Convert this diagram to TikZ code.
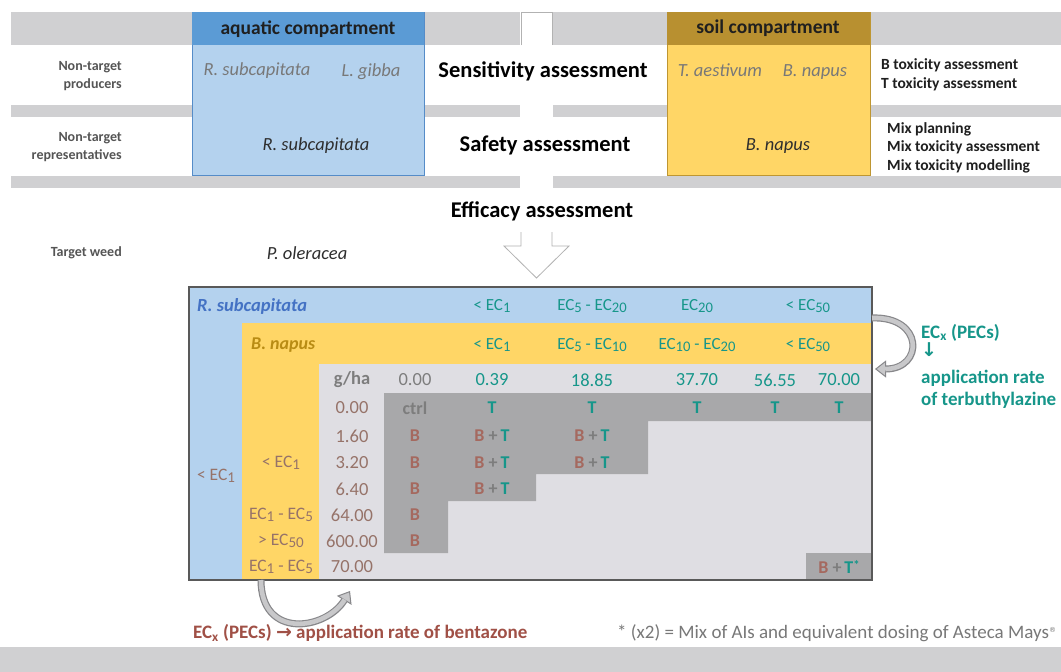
\documentclass[tikz,border=0pt]{standalone}
\usepackage{fontspec}
\setmainfont{Carlito}
\newfontfamily\symfnt{DejaVu Sans}
\usepackage{graphicx}
\usetikzlibrary{arrows.meta}
\definecolor{bandgray}{RGB}{208,208,210}
\definecolor{aqhead}{RGB}{91,155,213}
\definecolor{aqbody}{RGB}{180,210,238}
\definecolor{aqline}{RGB}{85,140,200}
\definecolor{soilhead}{RGB}{184,144,48}
\definecolor{soilbody}{RGB}{255,214,102}
\definecolor{soilline}{RGB}{190,150,50}
\definecolor{tblue}{RGB}{180,210,238}
\definecolor{tyellow}{RGB}{255,214,102}
\definecolor{tlight}{RGB}{223,222,227}
\definecolor{tdark}{RGB}{168,168,170}
\definecolor{labgray}{RGB}{85,85,85}
\definecolor{spgray}{RGB}{120,120,120}
\definecolor{tealc}{RGB}{22,150,138}
\definecolor{brownc}{RGB}{165,105,95}
\definecolor{rowbrown}{RGB}{150,115,105}
\definecolor{numgray}{RGB}{125,125,125}
\definecolor{rsblue}{RGB}{68,114,196}
\definecolor{bngold}{RGB}{185,140,20}
\definecolor{redbrown}{RGB}{160,80,70}
\definecolor{arrgray}{RGB}{135,135,138}
\definecolor{arrlight}{RGB}{200,200,202}
\newcommand\sbx[1]{\raisebox{-0.28ex}{\scalebox{0.86}{#1}}}
\tikzset{
  lbl/.style={font=\fontsize{14}{18}\selectfont\bfseries, text=labgray, align=right, anchor=east, inner sep=0pt},
  rtx/.style={font=\fontsize{15.5}{18.5}\selectfont\bfseries, text=black!88, align=left, anchor=west, inner sep=0pt},
  assess/.style={font=\fontsize{22.5}{24}\selectfont\bfseries, text=black, inner sep=0pt},
  hdr/.style={font=\fontsize{19.5}{20}\selectfont\bfseries, text=black!88, inner sep=0pt},
  spg/.style={font=\fontsize{18.5}{20}\selectfont\itshape, text=spgray, inner sep=0pt},
  spd/.style={font=\fontsize{18.5}{20}\selectfont\itshape, text=black!82, inner sep=0pt},
  ech/.style={font=\fontsize{17}{18}\selectfont, text=tealc, inner sep=0pt},
  numt/.style={font=\fontsize{18.5}{20}\selectfont, text=tealc, inner sep=0pt},
  numr/.style={font=\fontsize{18.5}{20}\selectfont, text=rowbrown, inner sep=0pt},
  ycol/.style={font=\fontsize{17.5}{20}\selectfont, text=rowbrown, inner sep=0pt},
  bcell/.style={font=\fontsize{18}{18}\selectfont\bfseries, text=brownc, inner sep=0pt},
  tcell/.style={font=\fontsize{18}{18}\selectfont\bfseries, text=tealc, inner sep=0pt},
  curvout/.style={line width=7pt, draw=arrgray, -{Triangle[width=17pt,length=11pt,line width=1pt,fill=arrlight]}},
  curvin/.style={line width=4.6pt, draw=arrlight, shorten >=10.2pt},
}
\begin{document}
\begin{tikzpicture}[x=1pt,y=-1pt]
\useasboundingbox (0,0) rectangle (1061,672);
\fill[white] (0,0) rectangle (1061,672);
% bands
\fill[bandgray] (11,12) rectangle (1061,45);
\fill[bandgray] (11,105) rectangle (1061,117);
\fill[bandgray] (11,176) rectangle (1061,188);
\fill[bandgray] (0,647) rectangle (1061,672);
% arrow shaft gaps
\fill[white] (520,12) rectangle (553,46);
\draw[gray!60, line width=0.8pt] (521,45) -- (521,12.4) -- (552,12.4) -- (552,45);
\fill[white] (520,104) rectangle (553,118);
\fill[white] (520,175) rectangle (553,189);
% arrow head
\filldraw[fill=white, draw=gray!60, line width=0.8pt] (521,232) -- (521,246) -- (504,246) -- (536.5,278) -- (569,246) -- (552,246) -- (552,232);
% compartments
\filldraw[fill=aqbody, draw=aqline, line width=0.8pt] (192,12) rectangle (424,175);
\fill[aqhead] (192,12) rectangle (424,45);
\filldraw[fill=soilbody, draw=soilline, line width=0.8pt] (667,12) rectangle (870,175);
\fill[soilhead] (667,12) rectangle (870,45);
\node[hdr] (aqh) at (308,29) {aquatic compartment};
\node[hdr] (soh) at (768,28) {soil compartment};
% left labels
\node[lbl] (ntp) at (122,76) {Non-target\\producers};
\node[lbl] (ntr) at (122,147) {Non-target\\representatives};
\node[lbl] (tw) at (122,253) {Target weed};
% assessments
\node[assess] (sens) at (543,71) {Sensitivity assessment};
\node[assess] (safe) at (545,145) {Safety assessment};
\node[assess] (effi) at (542,211) {Efficacy assessment};
% species
\node[spg] (rs1) at (257,71) {R. subcapitata};
\node[spg] (lg) at (371,72) {L. gibba};
\node[spd] (rs2) at (316,146) {R. subcapitata};
\node[spd] (po) at (307,253) {P. oleracea};
\node[spg] (ta) at (720,70) {T. aestivum};
\node[spg] (bn1) at (815,72) {B. napus};
\node[spd] (bn2) at (778,146) {B. napus};
% right texts
\node[rtx] (btox) at (881,75) {B toxicity assessment\\T toxicity assessment};
\node[rtx] (mix) at (887,147.5) {Mix planning\\Mix toxicity assessment\\Mix toxicity modelling};
% table backgrounds
\fill[tblue] (189,287) rectangle (872,580);
\fill[tyellow] (242,323) rectangle (872,580);
\fill[tlight] (319,364) rectangle (872,580);
\fill[tdark] (384,393) -- (872,393) -- (872,421) -- (648,421) -- (648,474) -- (536,474) -- (536,501) -- (448,501) -- (448,553) -- (384,553) -- cycle;
\fill[tdark] (806,553) rectangle (872,580);
\draw[black!65, line width=1.3pt] (189,287) rectangle (872,580);
% header rows
\node[font=\fontsize{18.5}{20}\selectfont\bfseries\itshape, text=rsblue, anchor=west, inner sep=0pt] (hrs) at (197,306) {R. subcapitata};
\node[font=\fontsize{18}{20}\selectfont\bfseries\itshape, text=bngold, anchor=west, inner sep=0pt] (hbn) at (251,345) {B. napus};
\node[ech] (a1) at (492,306) {< EC\sbx{1}};
\node[ech] (a2) at (592,306) {EC\sbx{5} - EC\sbx{20}};
\node[ech] (a3) at (697,306) {EC\sbx{20}};
\node[ech] (a4) at (808,306) {< EC\sbx{50}};
\node[ech] (b1) at (492,345) {< EC\sbx{1}};
\node[ech] (b2) at (592,345) {EC\sbx{5} - EC\sbx{10}};
\node[ech] (b3) at (697,345) {EC\sbx{10} - EC\sbx{20}};
\node[ech] (b4) at (808,345) {< EC\sbx{50}};
% g/ha row
\node[font=\fontsize{18.5}{20}\selectfont\bfseries, text=numgray, inner sep=0pt] (gha) at (352,380) {g/ha};
\node[font=\fontsize{18.5}{20}\selectfont, text=numgray, inner sep=0pt] (c1) at (415,380) {0.00};
\node[numt] (c2) at (492,380) {0.39};
\node[numt] (c3) at (592,380) {18.85};
\node[numt] (c4) at (697,380) {37.70};
\node[numt] (c5) at (775,380) {56.55};
\node[numt] (c6) at (839,380) {70.00};
% row labels
\node[numr] (r0) at (352,408) {0.00};
\node[numr] (r1) at (352,436) {1.60};
\node[numr] (r2) at (352,463) {3.20};
\node[numr] (r3) at (352,489) {6.40};
\node[numr] (r4) at (352,515) {64.00};
\node[numr] (r5) at (352,541) {600.00};
\node[numr] (r6) at (352,567) {70.00};
% yellow and blue column labels
\node[ycol] (y1) at (281,463) {< EC\sbx{1}};
\node[ycol] (y2) at (281,515) {EC\sbx{1} - EC\sbx{5}};
\node[ycol] (y3) at (281,541) {> EC\sbx{50}};
\node[ycol] (y4) at (281,567) {EC\sbx{1} - EC\sbx{5}};
\node[ycol] (bl1) at (216,476) {< EC\sbx{1}};
% cells
\node[font=\fontsize{18}{18}\selectfont\bfseries, text=numgray, inner sep=0pt] (ctrl) at (415,408) {ctrl};
\node[tcell] (t2) at (492,408) {T};
\node[tcell] (t3) at (592,408) {T};
\node[tcell] (t4) at (697,408) {T};
\node[tcell] (t5) at (775,408) {T};
\node[tcell] (t6) at (839,408) {T};
\node[bcell] (bb1) at (415,436) {B};
\node[bcell] (bb2) at (415,463) {B};
\node[bcell] (bb3) at (415,489) {B};
\node[bcell] (bb4) at (415,515) {B};
\node[bcell] (bb5) at (415,541) {B};
\node[bcell] (m12) at (492,436) {B {\color{numgray}+}\,{\color{tealc}T}};
\node[bcell] (m13) at (592,436) {B {\color{numgray}+}\,{\color{tealc}T}};
\node[bcell] (m22) at (492,463) {B {\color{numgray}+}\,{\color{tealc}T}};
\node[bcell] (m23) at (592,463) {B {\color{numgray}+}\,{\color{tealc}T}};
\node[bcell] (m32) at (492,489) {B {\color{numgray}+}\,{\color{tealc}T}};
\node[bcell] (mst) at (839,567) {B {\color{numgray}+}\,{\color{tealc}T}\raisebox{0.5ex}{\scalebox{0.7}{\color{tealc}*}}};
% curved arrows
\coordinate (ra) at (872,318);
\coordinate (rb) at (875,369);
\draw[curvout] (ra) .. controls (924,316) and (924,369) .. (rb);
\draw[curvin] (ra) .. controls (924,316) and (924,369) .. (rb);
\coordinate (ba) at (261,580);
\coordinate (bb) at (350,591);
\draw[curvout] (ba) .. controls (261,640) and (326,630) .. (bb);
\draw[curvin] (ba) .. controls (261,640) and (326,630) .. (bb);
% annotations
\node[font=\fontsize{19}{22}\selectfont\bfseries, text=tealc, align=left, anchor=north west, inner sep=0pt] (ann) at (921,324) {EC\textsubscript{x} (PECs)\\[-4pt]{\symfnt\bfseries ↓}\\[5pt]application rate\\of terbuthylazine};
\node[font=\fontsize{19}{20}\selectfont\bfseries, text=redbrown, anchor=west, inner sep=0pt] (bent) at (193,633) {EC\textsubscript{x} (PECs) {\symfnt\bfseries →} application rate of bentazone};
\node[font=\fontsize{19}{20}\selectfont, text=spgray, anchor=west, inner sep=0pt] (foot) at (617,633) {* (x2) = Mix of AIs and equivalent dosing of Asteca Mays\textsuperscript{\symfnt\scriptsize ®}};
\end{tikzpicture}
\end{document}
